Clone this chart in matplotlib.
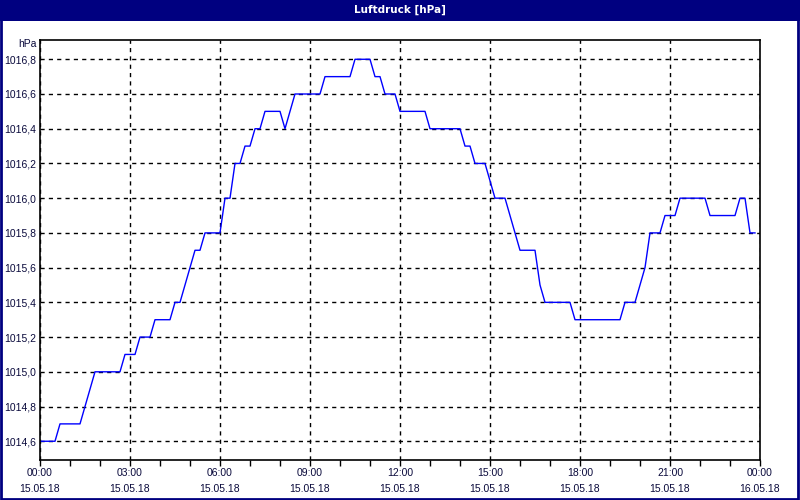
import matplotlib
matplotlib.use("Agg")
import matplotlib.pyplot as plt
from matplotlib.patches import Rectangle
from matplotlib.ticker import FixedLocator, MultipleLocator

# Data: breakpoints of the pressure curve (minutes after 00:00, hPa)
minutes = [0, 30, 40, 80, 90, 100, 110, 160, 170, 190, 200, 220, 230, 260,
           270, 280, 290, 300, 310, 320, 330, 360, 370, 380, 390, 400, 410,
           420, 430, 440, 450, 480, 490, 500, 510, 560, 570, 620, 630, 660,
           670, 680, 690, 710, 720, 770, 780, 840, 850, 860, 870, 890, 900,
           910, 930, 940, 950, 960, 990, 1000, 1010, 1060, 1070, 1160, 1170,
           1190, 1200, 1210, 1220, 1240, 1250, 1270, 1280, 1330, 1340, 1390,
           1400, 1410, 1420, 1430]
pressure = [1014.6, 1014.6, 1014.7, 1014.7, 1014.8, 1014.9, 1015.0, 1015.0,
            1015.1, 1015.1, 1015.2, 1015.2, 1015.3, 1015.3, 1015.4, 1015.4,
            1015.5, 1015.6, 1015.7, 1015.7, 1015.8, 1015.8, 1016.0, 1016.0,
            1016.2, 1016.2, 1016.3, 1016.3, 1016.4, 1016.4, 1016.5, 1016.5,
            1016.4, 1016.5, 1016.6, 1016.6, 1016.7, 1016.7, 1016.8, 1016.8,
            1016.7, 1016.7, 1016.6, 1016.6, 1016.5, 1016.5, 1016.4, 1016.4,
            1016.3, 1016.3, 1016.2, 1016.2, 1016.1, 1016.0, 1016.0, 1015.9,
            1015.8, 1015.7, 1015.7, 1015.5, 1015.4, 1015.4, 1015.3, 1015.3,
            1015.4, 1015.4, 1015.5, 1015.6, 1015.8, 1015.8, 1015.9, 1015.9,
            1016.0, 1016.0, 1015.9, 1015.9, 1016.0, 1016.0, 1015.8, 1015.8]

y_ticks = [1014.6, 1014.8, 1015.0, 1015.2, 1015.4, 1015.6, 1015.8,
           1016.0, 1016.2, 1016.4, 1016.6, 1016.8]
x_ticks = [0, 3, 6, 9, 12, 15, 18, 21, 24]
x_labels = ["00:00\n15.05.18", "03:00\n15.05.18", "06:00\n15.05.18",
            "09:00\n15.05.18", "12:00\n15.05.18", "15:00\n15.05.18",
            "18:00\n15.05.18", "21:00\n15.05.18", "00:00\n16.05.18"]

navy = "#000080"
text_col = "#0a0a3c"
plt.rcParams["font.family"] = ["Liberation Sans", "DejaVu Sans"]

fig = plt.figure(figsize=(8, 5), dpi=100)
fig.patch.set_facecolor("white")

# title bar and outer frame
fig.patches.append(Rectangle((0, 1 - 21 / 500), 1, 21 / 500, transform=fig.transFigure,
                             facecolor=navy, edgecolor="none", zorder=0))
fig.patches.append(Rectangle((0.001, 0.002), 0.997, 0.996, transform=fig.transFigure,
                             facecolor="none", edgecolor=navy, linewidth=2, zorder=5))
fig.text(0.5, 1 - 10 / 500, "Luftdruck [hPa]", color="white", fontsize=7.5,
         fontweight="bold", ha="center", va="center", family="DejaVu Sans")

ax = fig.add_axes([40 / 800, 40 / 500, 720 / 800, 420 / 500])
hours = [m / 60 for m in minutes]
ax.plot(hours, pressure, color="#0000ff", linewidth=1)

ax.set_xlim(0, 24)
ax.set_ylim(1014.492, 1016.911)

ax.xaxis.set_major_locator(FixedLocator(x_ticks))
ax.xaxis.set_minor_locator(MultipleLocator(1))
ax.set_xticklabels(x_labels)
ax.yaxis.set_major_locator(FixedLocator(y_ticks))
ax.set_yticklabels([f"{v:.1f}".replace(".", ",") for v in y_ticks])

ax.tick_params(axis="x", which="both", direction="out", length=4, width=1,
               color="black", labelsize=7.5, labelcolor=text_col, pad=2)
ax.tick_params(axis="y", length=0, labelsize=7.5, labelcolor=text_col, pad=3)
for lab in ax.get_xticklabels():
    lab.set_linespacing(1.75)

ax.grid(True, which="major", color="black", linestyle=(0, (3, 3)), linewidth=1)
for s in ax.spines.values():
    s.set_color("black")
    s.set_linewidth(1.2)

fig.text(37 / 800, 1 - 44 / 500, "hPa", fontsize=7.5, color=text_col,
         ha="right", va="center")

fig.savefig("out.png", dpi=100)
